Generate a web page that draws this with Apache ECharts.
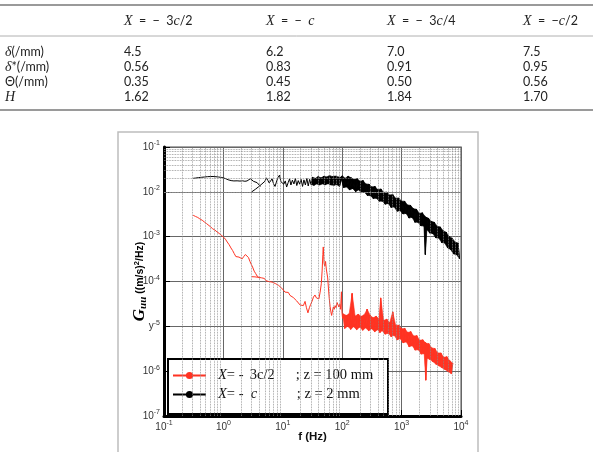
<!DOCTYPE html>
<html><head><meta charset="utf-8">
<script src="https://cdn.jsdelivr.net/npm/echarts@6/dist/echarts.min.js"></script>
<style>html,body{margin:0;padding:0;background:#fff}#c{width:593px;height:452px}</style>
</head><body><div id="c"></div>
<script>
// ---------- table data ----------
const tableColumnHeaders = ['{i|X}  =  −  3{i|c}/2', '{i|X}  =  −  {i|c}', '{i|X}  =  −  3{i|c}/4', '{i|X}  =  −{i|c}/2'];
const tableRowLabels = ['{i|δ}(/mm)', '{i|δ}*(/mm)', 'Θ(/mm)', '{i|H}'];
const deltaValues = ['4.5', '6.2', '7.0', '7.5'];
const deltaStarValues = ['0.56', '0.83', '0.91', '0.95'];
const thetaValues = ['0.35', '0.45', '0.50', '0.56'];
const shapeFactorValues = ['1.62', '1.82', '1.84', '1.70'];

// ---------- chart data ----------
const seriesNames = ['X= - 3c/2 ; z = 100 mm', 'X= - c ; z = 2 mm'];
const xTickValues = [0.1, 1, 10, 100, 1000, 10000];
const xTickBase = ['10', '10', '10', '10', '10', '10'];
const xTickSup = ['-1', '0', '1', '2', '3', '4'];
const yTickValues = [1e-1, 1e-2, 1e-3, 1e-4, 1e-5, 1e-6, 1e-7];
const yTickBase = ['10', '10', '10', '10', 'y', '10', '10'];
const yTickSup = ['-1', '-2', '-3', '-4', '-5', '-6', '-7'];

// X = -3c/2 ; z = 100 mm  (red)
const redLowFreq = [[0.31,0.00300],[0.34,0.00282],[0.37,0.00268],[0.40,0.00250],[0.44,0.00232],[0.48,0.00212],[0.52,0.00196],[0.56,0.00180],[0.61,0.00165],[0.66,0.00150],[0.72,0.00140],[0.78,0.00128],[0.85,0.00118],[0.92,0.00108],[1.0,0.00098],[1.08,0.00088],[1.16,0.00076],[1.25,0.00066],[1.34,0.00056],[1.43,0.00049],[1.52,0.00042],[1.62,0.00036],[1.72,0.00034],[1.83,0.00035],[1.95,0.00033],[2.07,0.00032],[2.2,0.00036],[2.35,0.00040],[2.5,0.00039],[2.65,0.00034],[2.8,0.00028],[2.95,0.00024],[3.1,0.00021],[3.3,0.00017],[3.5,0.000150],[3.7,0.000132],[3.9,0.000122],[4.1,0.000118],[4.2,null]];
const redMidFreq = [[3.0,0.000128],[3.2,0.000120],[3.4,0.000127],[3.6,0.000118],[3.85,0.000124],[4.1,0.000114],[4.35,0.000121],[4.6,0.000110],[4.9,0.000117],[5.2,0.000104],[5.5,0.000112],[5.8,0.000100],[6.2,0.000108],[6.6,0.000097],[7.0,0.000104],[7.5,0.000090],[8.0,0.000094],[8.5,0.000082],[9.0,0.000080],[9.6,0.000071],[10.2,0.000068],[10.9,0.000058],[11.6,0.000054],[12.4,0.000057],[13.2,0.000049],[14.1,0.000052],[15.0,0.000044],[16.0,0.000046],[17.1,0.000037],[18.3,0.000040],[19.5,0.000030],[20.8,0.000033],[22.2,0.000029],[23.7,0.000036],[25.0,0.000026],[26.5,0.000020],[28.0,0.000026],[29.5,0.000031],[31.0,0.000036],[32.8,0.000045],[34.8,0.000050],[36.8,0.000043],[38.5,0.000047],[40.5,0.000041],[42.5,0.000058],[44.5,0.000090],[46.0,0.00018],[47.2,0.00040],[48.0,0.00059],[48.8,0.00036],[49.6,0.00025],[51.0,0.00022],[52.5,0.00028],[54.0,0.00019],[55.5,0.000175],[57.0,0.00012],[58.5,0.000075],[60.5,0.000042],[62.5,0.000028],[64.5,0.000021],[66.4,0.0000175],[68.5,0.000022],[71.0,0.000027],[73.5,0.000024],[76.0,0.000029],[79.0,0.000026],[82.0,0.000034],[85.0,0.000036],[88.0,0.000027],[91.0,0.000031],[94.0,0.000024],[97.0,0.000059],[99.0,0.000021],[101.5,0.000015]];
const redHighFreq = [[104,1.9e-5],[110,9.0e-6],[117,1.75e-5],[124,1.0e-5],[131,1.9e-5],[139,8.6e-6],[147,5.4e-5],[156,9.8e-6],[165,1.7e-5],[175,8.4e-6],[186,1.85e-5],[197,9.6e-6],[209,1.68e-5],[221,8.2e-6],[234,1.8e-5],[248,9.2e-6],[263,2.4e-5],[279,8.0e-6],[296,1.75e-5],[313,8.8e-6],[332,1.55e-5],[352,7.6e-6],[373,1.68e-5],[396,8.4e-6],[419,1.45e-5],[431,7.3e-6],[444,4.3e-5],[471,8.0e-6],[499,1.35e-5],[529,6.7e-6],[561,1.45e-5],[595,7.0e-6],[630,1.2e-5],[668,5.9e-6],[708,2.1e-5],[751,6.3e-6],[796,1.05e-5],[843,5.0e-6],[894,1.07e-5],[947,5.3e-6],[1004,8.8e-6],[1064,4.3e-6],[1128,9.0e-6],[1196,4.5e-6],[1268,7.3e-6],[1344,3.5e-6],[1424,7.6e-6],[1510,3.7e-6],[1600,6.1e-6],[1696,2.95e-6],[1798,6.2e-6],[1906,3.0e-6],[2020,4.9e-6],[2141,2.4e-6],[2270,5.0e-6],[2406,2.45e-6],[2480,4.4e-6],[2550,6.3e-7],[2620,4.2e-6],[2703,1.95e-6],[2865,4.1e-6],[3037,1.8e-6],[3219,3.3e-6],[3412,1.6e-6],[3617,3.2e-6],[3834,1.42e-6],[4064,2.55e-6],[4308,1.3e-6],[4567,2.55e-6],[4840,1.18e-6],[5131,2.05e-6],[5439,1.08e-6],[5765,2.1e-6],[6111,0.98e-6],[6477,1.7e-6],[6866,8.8e-7],[7278,1.5e-6]];

// X = -c ; z = 2 mm  (black)
const blackLowFreq = [[0.31,0.0200],[0.34,0.0203],[0.38,0.0207],[0.43,0.0211],[0.48,0.0214],[0.54,0.0218],[0.6,0.0219],[0.67,0.0220],[0.75,0.0217],[0.83,0.0214],[0.92,0.0210],[1.0,0.0204],[1.1,0.0196],[1.2,0.0186],[1.35,0.0178],[1.5,0.0175],[1.7,0.0176],[1.9,0.0174],[2.1,0.0176],[2.3,0.0172],[2.5,0.0175],[2.7,0.0183],[2.85,0.0196],[3.0,0.0180],[3.2,0.0172],[3.45,0.0169],[3.7,0.0160],[3.95,0.0145],[4.2,0.0132],[4.3,null]];
const blackMidFreq = [[3.0,0.0100],[3.2,0.0106],[3.45,0.0114],[3.7,0.0124],[3.95,0.0131],[4.2,0.0140],[4.45,0.0150],[4.7,0.0156],[5.0,0.0172],[5.3,0.0205],[5.6,0.0180],[5.9,0.0158],[6.2,0.0172],[6.6,0.0195],[7.0,0.0150],[7.4,0.0132],[7.8,0.0165],[8.3,0.0210],[8.8,0.0235],[9.3,0.0168],[9.8,0.0185],[10.4,0.0148],[11.0,0.0175],[11.6,0.0128],[12.3,0.0160],[13.0,0.0195],[13.7,0.0142],[14.5,0.0182],[15.4,0.0150],[16.3,0.0200],[17.2,0.0138],[18.2,0.0178],[19.2,0.0148],[20.3,0.0190],[21.5,0.0132],[22.7,0.0185],[24,0.0142],[25.4,0.0200],[26.8,0.0135],[28.3,0.0190],[29.9,0.0146],[31.6,0.0212],[33.4,0.0140],[35.3,0.0200],[37.3,0.0150],[39.4,0.0218],[41.6,0.0142],[44,0.0205],[46.5,0.0150],[49.1,0.0222],[51.9,0.0144],[54.8,0.0215],[57.9,0.0152],[61.2,0.0232],[64.7,0.0142],[68.4,0.0218],[72.3,0.0140],[76.4,0.0225],[80.7,0.0145],[85.3,0.0215],[90.1,0.0132],[95.2,0.0212]];
const blackHighFreq = [[100,0.0228],[106,0.0125],[112,0.0201],[119,0.0128],[126,0.0223],[133,0.0110],[141,0.0206],[150,0.0118],[158,0.0188],[168,0.0101],[178,0.0198],[188,0.0110],[200,0.0172],[211,0.0096],[224,0.0178],[237,0.0098],[251,0.0150],[266,0.0083],[282,0.0148],[299,0.0082],[316,0.0129],[335,0.0071],[355,0.0132],[376,0.0072],[398,0.0112],[422,0.0062],[447,0.0116],[473,0.0062],[501,0.0097],[531,0.0053],[562,0.0099],[596,0.0055],[631,0.0085],[668,0.0045],[708,0.0087],[750,0.0046],[794,0.0072],[841,0.0037],[891,0.0073],[944,0.0038],[1000,0.0062],[1059,0.0032],[1122,0.0062],[1189,0.0033],[1259,0.0051],[1334,0.0026],[1413,0.0050],[1496,0.0027],[1585,0.0042],[1679,0.0021],[1778,0.0041],[1884,0.0021],[1995,0.0033],[2113,0.00175],[2239,0.0034],[2371,0.00172],[2440,0.0029],[2512,0.0004],[2590,0.0027],[2661,0.00142],[2818,0.0026],[2985,0.00120],[3162,0.0022],[3350,0.00117],[3548,0.0021],[3758,0.00094],[3981,0.00170],[4217,0.00093],[4467,0.00165],[4732,0.00074],[5012,0.00135],[5309,0.00072],[5623,0.00126],[5957,0.00056],[6310,0.0010],[6683,0.00052],[7079,0.00093],[7499,0.00041],[7943,0.00076],[8414,0.00040],[8913,0.00072],[9441,0.00032]];

const redSpectrum = redLowFreq.concat(redMidFreq, redHighFreq);
const blackSpectrum = blackLowFreq.concat(blackMidFreq, blackHighFreq);
const blackBand = blackMidFreq.filter(p => p[0] >= 29).concat(blackHighFreq);

// ---------- build ----------
const chart = echarts.init(document.getElementById('c'), null, {renderer: 'canvas'});

function tickLabel(values, bases, sups) {
  return function (v) {
    for (let i = 0; i < values.length; i++) {
      if (Math.abs(Math.log10(v) - Math.log10(values[i])) < 0.01) return '{b|' + bases[i] + '}{s|' + sups[i] + '}';
    }
    return '';
  };
}
const tickRich = {
  b: {fontSize: 10, fontFamily: 'Liberation Sans', color: '#333'},
  s: {fontSize: 7, fontFamily: 'Liberation Sans', color: '#333', padding: [0, 0, 7, 0]}
};

// fills the noisy band: each triangle joins three consecutive samples of the trace
function bandRenderer(color) {
  return function (params, api) {
    const i = params.dataIndexInside;
    if (i + 2 >= params.dataInsideLength) return null;
    const pts = [];
    for (let k = 0; k < 3; k++) {
      const x = api.value(0, i + k), y = api.value(1, i + k);
      if (!(x > 0) || !(y > 0)) return null;
      pts.push(api.coord([x, y]));
    }
    return {type: 'polygon', shape: {points: pts}, style: {fill: color, stroke: color, lineWidth: 0.6}};
  };
}

// minor grid lines (2..9 within each decade)
const minorLines = [];
for (let k = -1; k <= 3; k++) for (let m = 2; m <= 9; m++) minorLines.push({xAxis: m * Math.pow(10, k)});
for (let k = -7; k <= -2; k++) for (let m = 2; m <= 9; m++) minorLines.push({yAxis: m * Math.pow(10, k)});

const tableFont = {fontFamily: 'Lato', fontSize: 12.5, fill: '#222'};
const tableRich = {i: {fontFamily: 'Liberation Serif', fontStyle: 'italic', fontSize: 14, fill: '#222'}};
const colX = [124, 266, 387, 523];
const rowY = [52, 67, 82, 97];
const tableRows = [deltaValues, deltaStarValues, thetaValues, shapeFactorValues];
const graphics = [
  {type: 'line', shape: {x1: 0, y1: 5, x2: 593, y2: 5}, style: {stroke: '#9a9a9a', lineWidth: 2}},
  {type: 'line', shape: {x1: 0, y1: 36, x2: 593, y2: 36}, style: {stroke: '#b0b0b0', lineWidth: 1}},
  {type: 'line', shape: {x1: 0, y1: 110, x2: 593, y2: 110}, style: {stroke: '#9a9a9a', lineWidth: 2}},
  {type: 'rect', shape: {x: 118, y: 132, width: 360, height: 330}, style: {fill: null, stroke: '#bdbdbd', lineWidth: 1.5}, z: -1},
  {type: 'rect', shape: {x: 168, y: 359, width: 220, height: 55}, style: {fill: '#fff', stroke: '#000', lineWidth: 2}, z: 3}
];
tableColumnHeaders.forEach((h, j) => graphics.push({type: 'text', x: colX[j], y: 21, style: Object.assign({text: h, rich: tableRich, verticalAlign: 'middle'}, tableFont)}));
tableRowLabels.forEach((r, i) => {
  graphics.push({type: 'text', x: 5, y: rowY[i], style: Object.assign({text: r, rich: tableRich, verticalAlign: 'middle'}, tableFont)});
  tableRows[i].forEach((v, j) => graphics.push({type: 'text', x: colX[j], y: rowY[i], style: Object.assign({text: v, verticalAlign: 'middle'}, tableFont)}));
});

const serif = 'Liberation Serif';
const legendRich = {
  i: {fontFamily: serif, fontStyle: 'italic', fontSize: 14.5, color: '#111', padding: [0, 0, 0, 7]},
  a: {fontFamily: serif, fontSize: 14.5, color: '#111', width: 23},
  b: {fontFamily: serif, fontSize: 14.5, color: '#111', width: 46},
  c: {fontFamily: serif, fontSize: 14.5, color: '#111'},
  ic: {fontFamily: serif, fontStyle: 'italic', fontSize: 14.5, color: '#111', width: 46},
  n: {fontFamily: serif, fontSize: 14.5, color: '#111'}
};

const option = {
  animation: false,
  backgroundColor: '#fff',
  grid: {left: 164, top: 147, right: 132, bottom: 36, show: true, borderColor: '#8a8a8a', borderWidth: 1.5, backgroundColor: 'transparent'},
  xAxis: {
    type: 'log', logBase: 10, min: 0.1, max: 10000,
    name: 'f (Hz)', nameLocation: 'middle', nameGap: 15, nameMoveOverlap: false,
    nameTextStyle: {fontFamily: 'Liberation Sans', fontWeight: 'bold', fontSize: 11.5, color: '#111'},
    axisLine: {show: true, onZero: false, lineStyle: {color: '#000', width: 3}},
    axisTick: {show: true, inside: true, length: 6, lineStyle: {color: '#000', width: 1}},
    axisLabel: {formatter: tickLabel(xTickValues, xTickBase, xTickSup), rich: tickRich, margin: 4},
    splitLine: {show: true, lineStyle: {color: '#666', width: 1}}
  },
  yAxis: {
    type: 'log', logBase: 10, min: 1e-7, max: 1e-1, splitNumber: 6,
    name: '{g|G}{u|uu}{t| ((m/s)}{p|2}{t|/Hz)}', nameLocation: 'middle', nameGap: 15, nameRotate: 90, nameMoveOverlap: false,
    nameTextStyle: {rich: {
      g: {fontFamily: serif, fontStyle: 'italic', fontWeight: 'bold', fontSize: 17, color: '#000'},
      u: {fontFamily: serif, fontStyle: 'italic', fontWeight: 'bold', fontSize: 11, color: '#000', padding: [7, 0, 0, 0]},
      t: {fontFamily: 'Liberation Sans', fontWeight: 'bold', fontSize: 10.5, color: '#000'},
      p: {fontFamily: 'Liberation Sans', fontWeight: 'bold', fontSize: 7.5, color: '#000', padding: [0, 0, 7, 0]}
    }},
    axisLine: {show: true, onZero: false, lineStyle: {color: '#000', width: 3}},
    axisTick: {show: true, inside: true, length: 6, lineStyle: {color: '#000', width: 1}},
    axisLabel: {formatter: tickLabel(yTickValues, yTickBase, yTickSup), rich: tickRich, margin: 4},
    splitLine: {show: true, lineStyle: {color: '#666', width: 1}}
  },
  legend: {
    data: seriesNames, orient: 'vertical', left: 167, top: 362, itemWidth: 33, itemHeight: 9, itemGap: 2,
    selectedMode: false,
    textStyle: {fontFamily: serif, fontSize: 14.5, color: '#111', lineHeight: 17, rich: legendRich},
    formatter: function (name) {
      if (name === seriesNames[0]) return '{i|X}{a|= - }{b|3c/2}{n|; z = 100 mm}';
      return '{i|X}{c|= -  }{ic|c}{n|; z = 2 mm}';
    },
    z: 5
  },
  graphic: graphics,
  series: [
    {type: 'line', data: [], z: 1, silent: true,
     markLine: {silent: true, symbol: ['none', 'none'], label: {show: false}, animation: false,
       lineStyle: {type: 'dotted', color: '#8a8a8a', width: 0.8}, emphasis: {disabled: true}, data: minorLines}},
    {type: 'custom', data: blackBand, renderItem: bandRenderer('#000'), silent: true, z: 3, clip: true},
    {type: 'custom', data: redHighFreq, renderItem: bandRenderer('#ff3322'), silent: true, z: 3, clip: true},
    {name: seriesNames[1], type: 'line', data: blackSpectrum, showSymbol: false, symbol: 'circle', connectNulls: false,
     lineStyle: {color: '#000', width: 1}, itemStyle: {color: '#000'}, z: 3},
    {name: seriesNames[0], type: 'line', data: redSpectrum, showSymbol: false, symbol: 'circle', connectNulls: false,
     lineStyle: {color: '#ff3322', width: 1}, itemStyle: {color: '#ff3322'}, z: 3}
  ]
};
chart.setOption(option);
</script>
</body></html>
